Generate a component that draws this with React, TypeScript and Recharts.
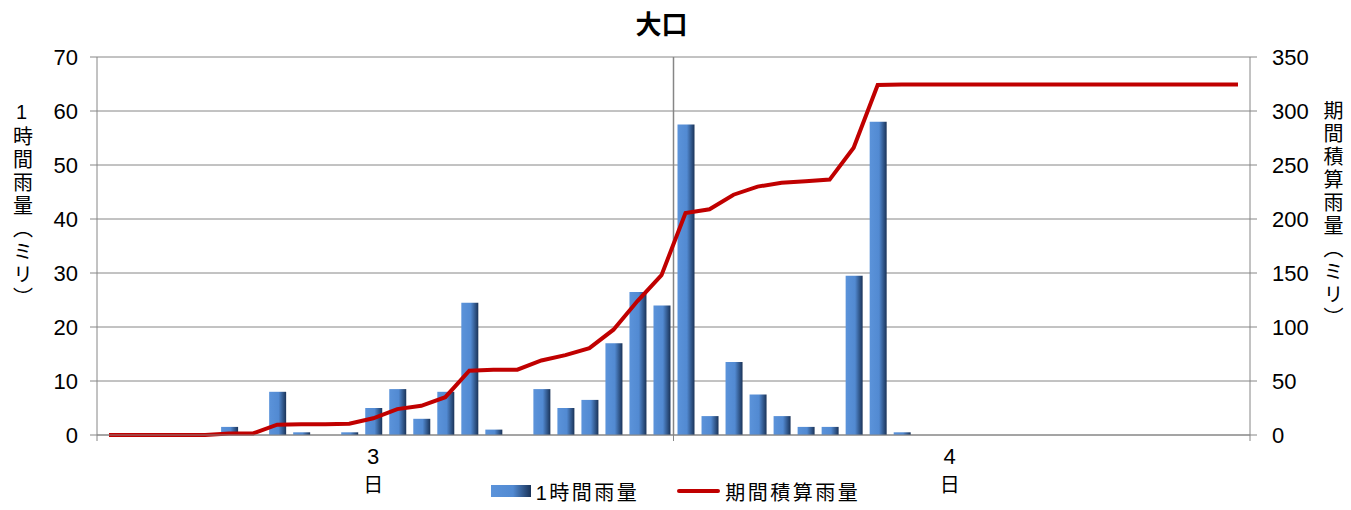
import { Bar, CartesianGrid, ComposedChart, Legend, Line, ReferenceLine, XAxis, YAxis } from 'recharts';

// 3日1時 〜 4日24時 (1時間ごと)
const days = ['3', '4'];
const hourly = [
  0, 0, 0, 0, 0, 1.5, 0, 8, 0.5, 0, 0.5, 5, 8.5, 3, 8, 24.5, 1, 0, 8.5, 5, 6.5, 17, 26.5, 24,
  57.5, 3.5, 13.5, 7.5, 3.5, 1.5, 1.5, 29.5, 58, 0.5, 0, 0, 0, 0, 0, 0, 0, 0, 0, 0, 0, 0, 0, 0,
];
const cumulative = [
  0, 0, 0, 0, 0, 1.5, 1.5, 9.5, 10, 10, 10.5, 15.5, 24, 27, 35, 59.5, 60.5, 60.5, 69, 74, 80.5, 97.5, 124, 148,
  205.5, 209, 222.5, 230, 233.5, 235, 236.5, 266, 324, 324.5, 324.5, 324.5, 324.5, 324.5, 324.5, 324.5, 324.5,
  324.5, 324.5, 324.5, 324.5, 324.5, 324.5, 324.5,
];
const leftTicks = [0, 10, 20, 30, 40, 50, 60, 70];
const rightTicks = [0, 50, 100, 150, 200, 250, 300, 350];

const HOURS = 24;
const data = hourly.map((v, i) => ({ slot: i + 0.5, hourly: v, cumulative: cumulative[i] }));
// day boundaries get a tick mark, day middles get the label
const xTicks = [0, HOURS * 0.5 - 0.5, HOURS, HOURS * 1.5 - 0.5, HOURS * 2];

const FONT = '"Liberation Sans", Arial, "Noto Sans CJK JP", sans-serif';
const GRID = '#868686';

function DayTick({ x, y, payload }: any) {
  const v = payload.value;
  if (v % HOURS === 0) {
    return <line x1={x} y1={y - 6} x2={x} y2={y} stroke={GRID} />;
  }
  const day = days[Math.floor(v / HOURS)];
  return (
    <text x={x} y={y} textAnchor="middle" fontFamily={FONT} fill="#000">
      <tspan x={x} dy={23} fontSize={22}>{day}</tspan>
      <tspan x={x} dy={27.5} fontSize={20}>日</tspan>
    </text>
  );
}

function VerticalTitle({ text, x, y }: { text: string; x: number; y: number }) {
  return (
    <text
      x={x}
      y={y}
      fontSize={20}
      fontFamily={FONT}
      fill="#000"
      letterSpacing={3}
      style={{ writingMode: 'vertical-rl', textOrientation: 'upright' } as any}
    >
      {text}
    </text>
  );
}

function LegendBox() {
  return (
    <div
      style={{
        display: 'flex',
        justifyContent: 'center',
        alignItems: 'center',
        height: 30,
        paddingBottom: 8,
        boxSizing: 'border-box',
        fontFamily: FONT,
        fontSize: 20,
        letterSpacing: 2.5,
        color: '#000',
      }}
    >
      <svg width={40} height={12} style={{ marginRight: 5 }}>
        <rect x={0} y={0} width={40} height={12} fill="url(#barFill)" />
      </svg>
      <span style={{ marginRight: 38 }}>1時間雨量</span>
      <svg width={43} height={12} style={{ marginRight: 5 }}>
        <line x1={2} y1={6} x2={41} y2={6} stroke="#C00000" strokeWidth={4} strokeLinecap="round" />
      </svg>
      <span>期間積算雨量</span>
    </div>
  );
}

export default function App() {
  return (
    <div style={{ position: 'absolute', left: 0, top: 0, width: 1351, height: 510, background: '#fff' }}>
      <svg width={1351} height={50} style={{ position: 'absolute', left: 0, top: 0 }}>
        <text x={661.5} y={33.5} textAnchor="middle" fontFamily={FONT} fontSize={26} fontWeight="bold" fill="#000">
          大口
        </text>
      </svg>
      <ComposedChart width={1351} height={510} data={data} margin={{ top: 57, right: 0, bottom: 0, left: 0 }}>
        <defs>
          <linearGradient id="barFill" x1="0" y1="0" x2="1" y2="0">
            <stop offset="0%" stopColor="#5B93DA" />
            <stop offset="55%" stopColor="#528AD2" />
            <stop offset="100%" stopColor="#1A3358" />
          </linearGradient>
        </defs>
        <CartesianGrid yAxisId="left" vertical={false} stroke={GRID} />
        <XAxis
          dataKey="slot"
          type="number"
          domain={[0, HOURS * 2]}
          ticks={xTicks}
          tick={<DayTick />}
          tickLine={false}
          tickSize={6}
          tickMargin={0}
          height={45}
          stroke={GRID}
          interval={0}
        />
        <YAxis
          yAxisId="left"
          domain={[0, 70]}
          ticks={leftTicks}
          width={97}
          tickSize={7}
          tickMargin={12}
          stroke={GRID}
          tick={{ fill: '#000', fontSize: 22, fontFamily: FONT }}
          label={{ content: () => <VerticalTitle text="1時間雨量（ミリ）" x={21.5} y={101} /> }}
        />
        <YAxis
          yAxisId="right"
          orientation="right"
          domain={[0, 350]}
          ticks={rightTicks}
          width={101}
          tickSize={7}
          tickMargin={15}
          stroke={GRID}
          tick={{ fill: '#000', fontSize: 22, fontFamily: FONT, textAnchor: 'start' }}
          label={{ content: () => <VerticalTitle text="期間積算雨量（ミリ）" x={1332} y={100} /> }}
        />
        <ReferenceLine yAxisId="left" x={HOURS} stroke={GRID} strokeWidth={1.5} />
        <Bar yAxisId="left" dataKey="hourly" name="1時間雨量" fill="url(#barFill)" barSize={17} isAnimationActive={false} />
        <Line
          yAxisId="right"
          dataKey="cumulative"
          name="期間積算雨量"
          stroke="#C00000"
          strokeWidth={4}
          dot={false}
          type="linear"
          isAnimationActive={false}
        />
        <Legend verticalAlign="bottom" height={30} content={() => <LegendBox />} />
      </ComposedChart>
    </div>
  );
}
